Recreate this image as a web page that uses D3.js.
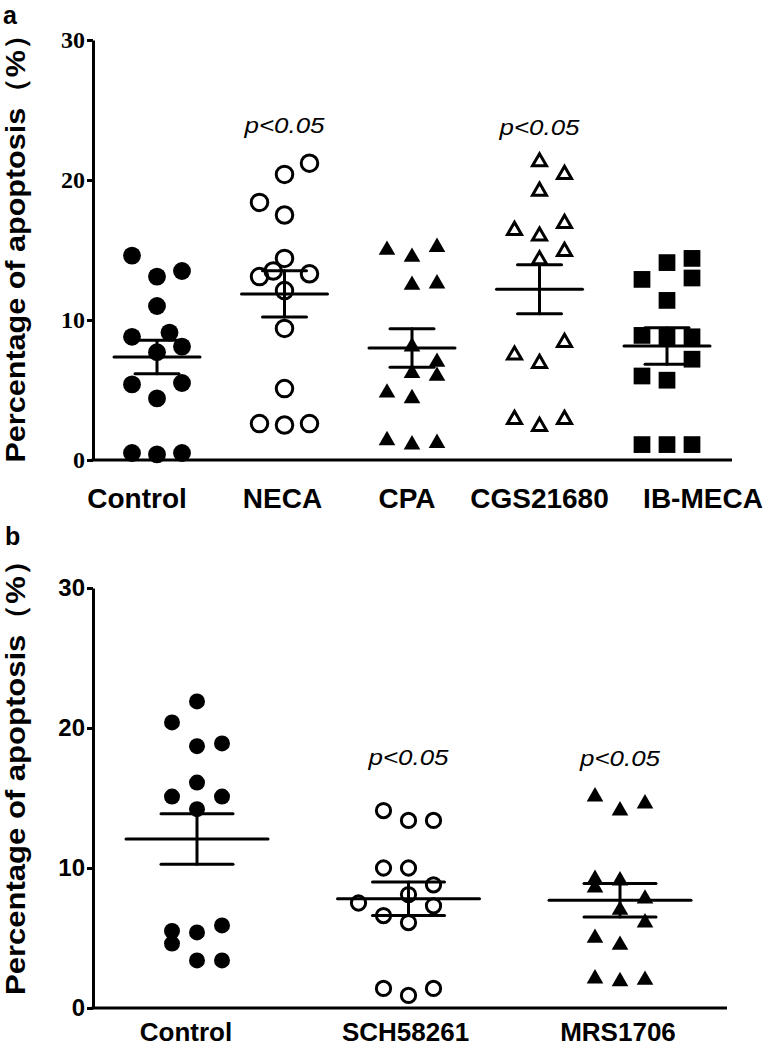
<!DOCTYPE html>
<html>
<head>
<meta charset="utf-8">
<script src="https://cdn.jsdelivr.net/npm/d3@7"></script>
<style>
  html, body { margin: 0; padding: 0; background: #fff; }
  svg { display: block; }
</style>
</head>
<body>
<svg id="chart" width="769" height="1056"></svg>
<script>
// ---------- DATA ----------
const yTicks = [0, 10, 20, 30];
const yLabel = "Percentage of apoptosis（%）";
const pLabel = "p<0.05";

// Panel a
const categoriesA = ["Control", "NECA", "CPA", "CGS21680", "IB-MECA"];
const controlA = [14.6, 13.1, 13.5, 11.0, 8.8, 9.1, 8.1, 7.7, 5.4, 5.5, 4.4, 0.5, 0.4, 0.5];
const necaA    = [21.2, 20.4, 18.4, 17.5, 14.4, 13.5, 13.1, 13.3, 12.1, 9.4, 5.1, 2.6, 2.5, 2.6];
const cpaA     = [15.0, 14.5, 15.2, 12.5, 12.6, 8.1, 7.0, 6.2, 6.0, 4.8, 4.4, 1.4, 1.1, 1.2];
const cgsA     = [21.3, 20.4, 19.2, 16.4, 16.0, 16.9, 14.9, 14.3, 7.5, 6.9, 8.4, 2.9, 2.4, 2.9];
const ibmecaA  = [12.9, 14.1, 14.4, 13.0, 11.4, 8.9, 8.8, 8.8, 7.2, 6.0, 5.7, 1.1, 1.1, 1.1];
const meansA   = [7.36, 11.86, 8.0, 12.2, 8.14];
const semA     = [1.2, 1.65, 1.38, 1.75, 1.3];
const signifA  = ["NECA", "CGS21680"];

// Panel b
const categoriesB = ["Control", "SCH58261", "MRS1706"];
const controlB = [21.9, 20.4, 18.7, 18.9, 16.1, 15.1, 15.1, 14.2, 5.5, 4.6, 5.4, 5.9, 3.4, 3.4];
const schB     = [14.1, 13.4, 13.4, 10.0, 10.0, 8.8, 8.1, 7.5, 7.3, 6.6, 6.1, 1.4, 0.9, 1.4];
const mrsB     = [15.1, 14.1, 14.6, 9.2, 8.6, 9.1, 7.8, 7.0, 6.1, 5.0, 4.5, 2.1, 1.9, 2.0];
const meansB   = [12.07, 7.8, 7.7];
const semB     = [1.8, 1.2, 1.2];
const signifB  = ["SCH58261", "MRS1706"];

// ---------- LAYOUT (not data) ----------
// scatter column of each point (-1 left, 0 centre, 1 right)
const jitterA = [
  [-1, 0, 1, 0, -1, 0.5, 1, 0, -1, 1, 0, -1, 0, 1],
  [1, 0, -1, 0, 0, -0.45, -1, 1, 0, 0, 0, -1, 0, 1],
  [-1, 0, 1, 0, 1, 0, 1, 0, 1, -1, 0, -1, 0, 1],
  [0, 1, 0, -1, 0, 1, 1, 0, -1, 0, 1, -1, 0, 1],
  [-1, 0, 1, 1, 0, -1, 0, 1, 1, -1, 0, -1, 0, 1]
];
const jitterB = [
  [0, -1, 0, 1, 0, -1, 1, 0, -1, -1, 0, 1, 0, 1],
  [-1, 0, 1, -1, 0, 1, 0, -2, 1, -1, 0, -1, 0, 1],
  [-1, 0, 1, -1, -1, 0, 1, 0, 1, -1, 0, -1, 0, 1]
];
const labelShiftA = [-20, -2, -5, 0, 36];
const labelShiftB = [-11, -3, -2];

const svg = d3.select("#chart");
const sans = "'Liberation Sans', Arial, sans-serif";
const serif = "'Liberation Serif', 'Times New Roman', serif";

function drawPanel(cfg) {
  const g = svg.append("g");
  const x = d3.scalePoint().domain(cfg.categories).range(cfg.xRange);
  const y = d3.scaleLinear().domain([0, 30]).range(cfg.yRange);

  // y axis
  const yAxis = d3.axisLeft(y).tickValues(yTicks).tickSize(6).tickSizeOuter(0).tickPadding(2);
  const ya = g.append("g").attr("transform", `translate(${cfg.axisX},0)`).call(yAxis);
  ya.select(".domain").attr("stroke", "#000").attr("stroke-width", 3);
  ya.selectAll(".tick line").attr("stroke", "#000").attr("stroke-width", 3);
  ya.selectAll(".tick text")
    .attr("font-family", cfg.tickFont).attr("font-weight", "bold")
    .attr("font-size", 24).attr("fill", "#000");

  // x axis baseline
  g.append("line")
    .attr("x1", cfg.axisX - 1.5).attr("x2", cfg.axisEnd)
    .attr("y1", y(0)).attr("y2", y(0))
    .attr("stroke", "#000").attr("stroke-width", 3);

  // category labels
  g.selectAll("text.cat").data(cfg.categories).join("text")
    .attr("class", "cat")
    .attr("x", (d, i) => x(d) + cfg.labelShift[i])
    .attr("y", cfg.labelY)
    .attr("text-anchor", "middle")
    .attr("font-family", sans).attr("font-weight", "bold")
    .attr("font-size", cfg.labelSize).attr("fill", "#000")
    .text(d => d);

  // y label
  g.append("text")
    .attr("transform", `translate(${cfg.yLabelX},${cfg.yLabelCY}) rotate(-90)`)
    .attr("text-anchor", "middle")
    .attr("font-family", sans).attr("font-weight", "bold")
    .attr("font-size", 28).attr("fill", "#000")
    .attr("textLength", cfg.yLabelLen).attr("lengthAdjust", "spacingAndGlyphs")
    .text(yLabel);

  // panel letter
  g.append("text")
    .attr("x", cfg.letterX).attr("y", cfg.letterY)
    .attr("font-family", sans).attr("font-weight", "bold")
    .attr("font-size", 25).attr("fill", "#000")
    .text(cfg.letter);

  // points
  cfg.series.forEach((vals, si) => {
    const cat = cfg.categories[si];
    const m = cfg.markers[si];
    const sym = d3.symbol().type(m.type).size(m.size);
    g.append("g").selectAll("path").data(vals).join("path")
      .attr("transform", (v, i) => `translate(${x(cat) + cfg.jitter[si][i] * cfg.jitterStep},${y(v)})`)
      .attr("d", sym)
      .attr("fill", m.filled ? "#000" : "none")
      .attr("stroke", m.filled ? "none" : "#000")
      .attr("stroke-width", m.filled ? 0 : m.sw);
  });

  // mean +/- SEM
  cfg.categories.forEach((cat, i) => {
    const cx = x(cat), mu = cfg.means[i], se = cfg.sem[i];
    const eb = g.append("g").attr("stroke", "#000").attr("stroke-width", 3).attr("stroke-linecap", "round");
    eb.append("line").attr("x1", cx - cfg.meanHalf).attr("x2", cx + cfg.meanHalf).attr("y1", y(mu)).attr("y2", y(mu));
    eb.append("line").attr("x1", cx).attr("x2", cx).attr("y1", y(mu + se)).attr("y2", y(mu - se));
    eb.append("line").attr("x1", cx - cfg.capHalf).attr("x2", cx + cfg.capHalf).attr("y1", y(mu + se)).attr("y2", y(mu + se));
    eb.append("line").attr("x1", cx - cfg.capHalf).attr("x2", cx + cfg.capHalf).attr("y1", y(mu - se)).attr("y2", y(mu - se));
  });

  // significance labels
  cfg.signif.forEach((cat, i) => {
    g.append("text")
      .attr("x", x(cat)).attr("y", cfg.pY[i])
      .attr("text-anchor", "middle")
      .attr("font-family", sans).attr("font-style", "italic")
      .attr("font-size", 22).attr("fill", "#000")
      .attr("textLength", 80).attr("lengthAdjust", "spacingAndGlyphs")
      .text(pLabel);
  });
}

drawPanel({
  letter: "a", letterX: 3, letterY: 24,
  categories: categoriesA,
  series: [controlA, necaA, cpaA, cgsA, ibmecaA],
  jitter: jitterA, jitterStep: 25,
  means: meansA, sem: semA,
  signif: signifA, pY: [133, 135],
  xRange: [157, 667], yRange: [460, 40],
  axisX: 93, axisEnd: 732,
  tickFont: serif,
  labelShift: labelShiftA, labelY: 508, labelSize: 28,
  yLabelX: 25, yLabelCY: 241, yLabelLen: 443,
  meanHalf: 43, capHalf: 22,
  markers: [
    { type: d3.symbolCircle, size: 250, filled: true },
    { type: d3.symbolCircle, size: 215, filled: false, sw: 3 },
    { type: d3.symbolTriangle, size: 120, filled: true },
    { type: d3.symbolTriangle, size: 85, filled: false, sw: 3 },
    { type: d3.symbolSquare, size: 280, filled: true }
  ]
});

drawPanel({
  letter: "b", letterX: 5, letterY: 545,
  categories: categoriesB,
  series: [controlB, schB, mrsB],
  jitter: jitterB, jitterStep: 25,
  means: meansB, sem: semB,
  signif: signifB, pY: [765, 766],
  xRange: [197, 620], yRange: [1008, 588],
  axisX: 93, axisEnd: 727,
  tickFont: sans,
  labelShift: labelShiftB, labelY: 1041, labelSize: 26,
  yLabelX: 25, yLabelCY: 770, yLabelLen: 450,
  meanHalf: 71, capHalf: 36,
  markers: [
    { type: d3.symbolCircle, size: 200, filled: true },
    { type: d3.symbolCircle, size: 160, filled: false, sw: 3 },
    { type: d3.symbolTriangle, size: 120, filled: true }
  ]
});
</script>
</body>
</html>
